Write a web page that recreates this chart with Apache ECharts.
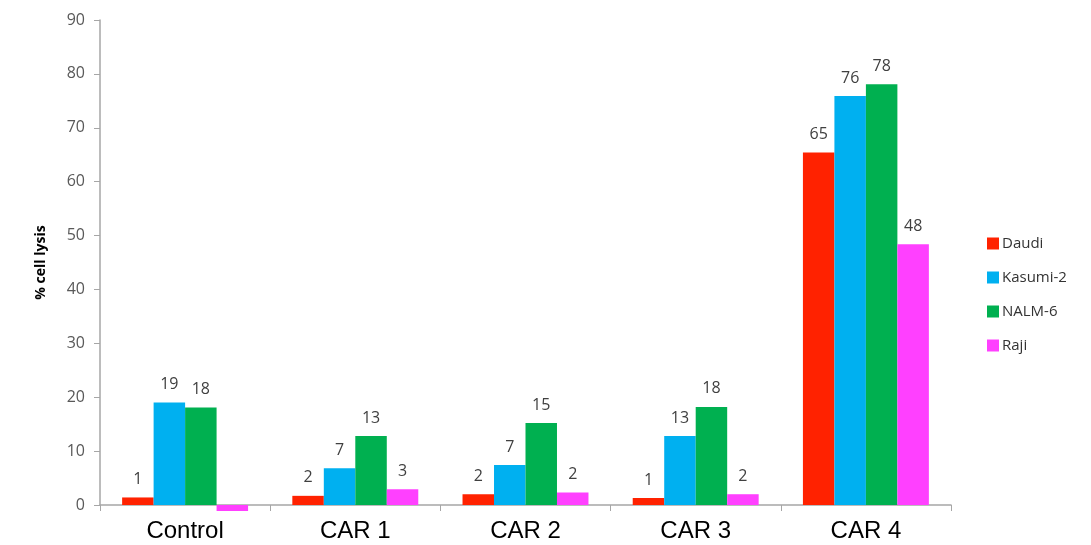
<!DOCTYPE html>
<html>
<head>
<meta charset="utf-8">
<script src="https://cdn.jsdelivr.net/npm/echarts@6/dist/echarts.min.js"></script>
<style>html,body{margin:0;padding:0;background:#fff}#c{width:1091px;height:545px}</style>
</head>
<body>
<div id="c"></div>
<script>
var categories = ['Control', 'CAR 1', 'CAR 2', 'CAR 3', 'CAR 4'];
var seriesNames = ['Daudi', 'Kasumi-2', 'NALM-6', 'Raji'];
var daudi = [1.4, 1.7, 2.0, 1.3, 65.4];
var kasumi2 = [19.0, 6.8, 7.4, 12.8, 75.9];
var nalm6 = [18.1, 12.8, 15.2, 18.2, 78.1];
var raji = [-1.1, 2.9, 2.3, 2.0, 48.4];
var yTicks = [0, 10, 20, 30, 40, 50, 60, 70, 80, 90];

var colors = ['#FF2200', '#00B0F0', '#00B050', '#FF40FF'];
var values = [daudi, kasumi2, nalm6, raji];

var chart = echarts.init(document.getElementById('c'));
var series = seriesNames.map(function (n, i) {
  return {
    name: n,
    type: 'bar',
    data: values[i],
    barGap: '0%',
    barCategoryGap: '26%',
    clip: false,
    itemStyle: { color: colors[i] },
    label: {
      show: true,
      position: 'top',
      distance: 10,
      color: '#404040',
      fontSize: 16,
      fontFamily: 'Open Sans',
      formatter: function (p) { return p.value < 0 ? '' : String(Math.round(p.value)); }
    }
  };
});

chart.setOption({
  animation: false,
  color: colors,
  grid: { left: 100, right: 140, top: 20, bottom: 40, containLabel: false },
  legend: {
    orient: 'vertical',
    left: 982,
    top: 231,
    itemWidth: 12,
    itemHeight: 12,
    itemGap: 19,
    icon: 'rect',
    textStyle: { color: '#333', fontSize: 15, fontFamily: 'Open Sans', padding: [0, 0, 0, -2] },
    data: seriesNames
  },
  xAxis: {
    type: 'category',
    data: categories,
    axisLine: { onZero: true, lineStyle: { color: '#A6A6A6', width: 1.5 } },
    axisTick: { show: true, length: 6, lineStyle: { color: '#A6A6A6' } },
    axisLabel: { color: '#000', fontSize: 24, fontFamily: 'Liberation Sans', margin: 14 },
    splitLine: { show: false }
  },
  yAxis: {
    type: 'value',
    min: 0,
    max: 90,
    interval: 10,
    name: '% cell lysis',
    nameLocation: 'middle',
    nameGap: 52,
    nameTextStyle: { color: '#000', fontSize: 14, fontWeight: 'bold', fontFamily: 'Open Sans' },
    axisLine: { show: true, lineStyle: { color: '#A6A6A6', width: 1.5 } },
    axisTick: { show: true, length: 6, lineStyle: { color: '#A6A6A6' } },
    axisLabel: {
      color: '#595959', fontSize: 16, fontFamily: 'Open Sans', margin: 15,
      formatter: function (v) { return yTicks.indexOf(v) >= 0 ? String(v) : ''; }
    },
    splitLine: { show: false }
  },
  series: series
});
</script>
</body>
</html>
